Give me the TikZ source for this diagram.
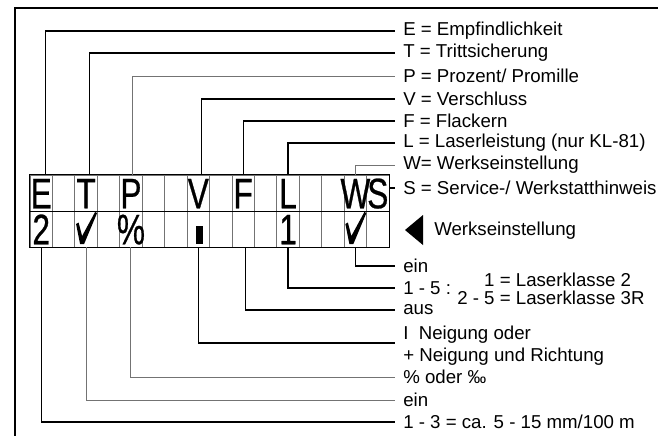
\documentclass[tikz,border=0pt]{standalone}
\usepackage{fontspec}
\setmainfont{Liberation Sans}
\newfontfamily\lcdfont{Liberation Sans}[FakeStretch=0.74, FakeBold=0.6]
\usetikzlibrary{calc}

\begin{document}
\begin{tikzpicture}[x=0.75pt, y=-0.75pt, font=\fontsize{14pt}{17pt}\selectfont]
  \useasboundingbox (0,0) rectangle (658,436);
  \tikzstyle{cell}=[draw=black!55, line width=0.6pt, minimum width=16.83pt, minimum height=27pt, inner sep=0pt]
  \tikzstyle{lcd}=[font=\lcdfont\fontsize{32pt}{32pt}\selectfont, inner sep=0pt, text height=22.9pt, text depth=0pt]
  \tikzstyle{lab}=[anchor=west, inner sep=0pt]
  \tikzstyle{line}=[line width=0.9pt]
  \tikzstyle{fline}=[line width=0.75pt, black!55]

  % Rahmen
  \draw[line width=1.2pt] (658,8) -- (15,8) -- (15,436);

  % Anzeige, 16 Stellen in zwei Zeilen
  \foreach \i in {1,...,16} {
    \node[cell] (o\i) at ({30+(\i-0.5)*22.44},193) {};
    \node[cell] (u\i) at ({30+(\i-0.5)*22.44},229) {};
  }
  \draw[line width=1.2pt] (o1.north west) rectangle (u16.south east);
  \draw[line width=1pt] (o1.south west) -- (o16.south east);

  \node[lcd] (cE) at (o1)  {E};
  \node[lcd] (cT) at (o3)  {T};
  \node[lcd] (cP) at (o5)  {P};
  \node[lcd] (cV) at (o8)  {V};
  \node[lcd] (cF) at (o10) {F};
  \node[lcd] (cL) at (o12) {L};
  \node[lcd] (cW) at (o15) {W};
  \node[lcd] (cS) at (o16) {S};

  \node[lcd] (wE) at (u1)  {2};
  \node[lcd] (wP) at (u5)  {\%};
  \node[fill, minimum width=5pt, minimum height=13.5pt, inner sep=0pt] (wV) at (199.5,235) {};
  \node[lcd] (wL) at (u12) {1};
  % Haken
  \foreach \c in {u3,u15}
    \fill[shift={(\c)}] (-10,-5) -- (-7.5,-6.5) -- (-4,7) -- (9,-17) -- (11,-16) -- (-2,15) -- (-6,15) -- cycle;

  % Beschriftung oben
  \node[lab] (lE) at (403,31)  {E = Empfindlichkeit};
  \node[lab] (lT) at (403,53)  {T = Trittsicherung};
  \node[lab] (lP) at (403,76)  {P = Prozent/ Promille};
  \node[lab] (lV) at (403,99)  {V = Verschluss};
  \node[lab] (lF) at (403,121) {F = Flackern};
  \node[lab] (lL) at (403,143) {L = Laserleistung (nur KL-81)};
  \node[lab] (lW) at (403,165) {W= Werkseinstellung};
  \node[lab] (lS) at (403,188) {S = Service-/ Werkstatthinweis};

  \draw[line]  ($(o1.north)+(4,0)$) |- ($(lE.west)+(-8,0)$);
  \draw[line]  ($(o3.north)+(3,0)$) |- ($(lT.west)+(-8,0)$);
  \draw[fline] ($(o5.north)+(2,0)$) |- ($(lP.west)+(-8,0)$);
  \draw[line]  ($(o8.north)+(3,0)$) |- ($(lV.west)+(-8,0)$);
  \draw[line]  (o10.north) |- ($(lF.west)+(-8,0)$);
  \draw[line]  (o12.north) |- ($(lL.west)+(-8,0)$);
  \draw[fline] (o15.north) |- ($(lW.west)+(-8,0)$);
  \draw[line]  (o16.east |- lS.west) -- ($(lS.west)+(-8,0)$);

  % Werkseinstellung
  \fill (405,230) -- (423,215) -- (423,245) -- cycle;
  \node[lab] (lWerk) at (434,231) {Werkseinstellung};

  % Beschriftung unten
  \node[lab] (aW) at (403,266) {ein};
  \node[lab] (aL) at (403,288) {1 - 5 :};
  \node[lab] (aK1) at (457,280) {\phantom{2 - }1 = Laserklasse 2};
  \node[lab] (aK2) at (457,298) {2 - 5 = Laserklasse 3R};
  \node[lab] (aF) at (403,310) {aus};
  \node[lab] (aV) at (403,335) {I\ \ Neigung oder};
  \node[lab] (aV2) at (403,357) {+ Neigung und Richtung};
  \node[lab] (aP) at (403,377) {\% oder ‰};
  \node[lab] (aT) at (403,400) {ein};
  \node[lab] (aE) at (403,422) {1 - 3 = ca. 5 - 15 mm/100 m};
  \coordinate (kV) at ($(aV.west)+(-8,8)$);

  \draw[line]  (u15.south) |- ($(aW.west)+(-8,0)$);
  \draw[line]  (u12.south) |- ($(aL.west)+(-8,0)$);
  \draw[line]  ($(u10.south)+(2,0)$) |- ($(aF.west)+(-8,0)$);
  \draw[line]  (u8.south) |- (kV);
  \draw[fline] (u5.south) |- ($(aP.west)+(-8,0)$);
  \draw[fline] (u3.south) |- ($(aT.west)+(-8,0)$);
  \draw[line]  (u1.south) |- ($(aE.west)+(-8,0)$);
\end{tikzpicture}
\end{document}
